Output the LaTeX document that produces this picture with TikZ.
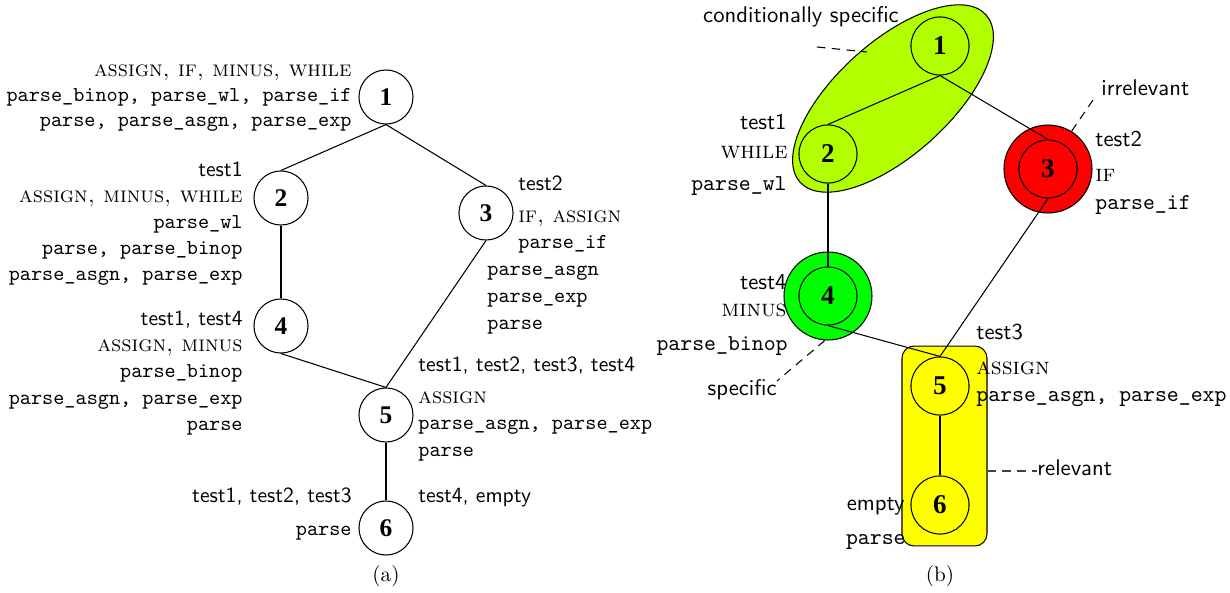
\documentclass[tikz,border=0pt]{standalone}
\usepackage{fontspec}
\usetikzlibrary{shapes.geometric}
\newfontfamily\numfont{Liberation Serif}
\definecolor{limefill}{RGB}{178,255,0}
\definecolor{greenfill}{RGB}{0,255,0}
\definecolor{redfill}{RGB}{255,0,0}
\definecolor{yellowfill}{RGB}{255,255,0}
\newcommand{\bsize}{\fontsize{10.7pt}{12.8pt}\selectfont}
\newcommand{\asfsize}{\fontsize{10.2pt}{12.2pt}\selectfont}
\newcommand{\ascsize}{\fontsize{10.5pt}{12.6pt}\selectfont}
\newcommand{\bscsize}{\fontsize{11.2pt}{13.4pt}\selectfont}
\begin{document}
\begin{tikzpicture}[x=0.4717pt,y=-0.4717pt,
  vtx/.style={circle,draw,line width=0.5pt,minimum size=25.5pt,inner sep=0pt,
              font=\numfont\bfseries\fontsize{12pt}{14pt}\selectfont},
  bvtx/.style={vtx,minimum size=27.4pt,font=\numfont\bfseries\fontsize{12.8pt}{15pt}\selectfont},
  halo/.style={circle,draw,line width=0.5pt,minimum size=41.5pt,inner sep=0pt},
  edge/.style={line width=0.5pt},
  lead/.style={line width=0.5pt,dash pattern=on 4pt off 3pt},
  lsf/.style={font=\sffamily\asfsize,inner sep=0pt},
  lsc/.style={font=\scshape\ascsize,inner sep=0pt},
  ltt/.style={font=\ttfamily,inner sep=0pt},
  bsf/.style={font=\sffamily\bsize,inner sep=0pt},
  bsc/.style={font=\scshape\bscsize,inner sep=0pt},
  btt/.style={font=\ttfamily\bsize,inner sep=0pt},
  rt/.style={anchor=mid east},
  lf/.style={anchor=mid west}]
\useasboundingbox (0,0) rectangle (1230,593);

% ---------------- (a) lattice ----------------
\node[vtx] (a1) at (386,97)  {1};
\node[vtx] (a2) at (281,198) {2};
\node[vtx] (a3) at (486,213) {3};
\node[vtx] (a4) at (281,326) {4};
\node[vtx] (a5) at (386,415) {5};
\node[vtx] (a6) at (386,528) {6};
\draw[edge] (a1.south) -- (a2.north);
\draw[edge] (a1.south) -- (a3.north);
\draw[edge] (a2.south) -- (a4.north);
\draw[edge] (a4.south) -- (a5.north);
\draw[edge] (a3.south) -- (a5.north);
\draw[edge] (a5.south) -- (a6.north);

\node[lsc,rt] (a1x) at (352,72)  {assign, if, minus, while};
\node[ltt,rt] (a1y) at (352,97)  {parse\_binop, parse\_wl, parse\_if};
\node[ltt,rt] (a1z) at (352,122) {parse, parse\_asgn, parse\_exp};

\node[lsf,rt] (a2w) at (243,172) {test1};
\node[lsc,rt] (a2x) at (243,198) {assign, minus, while};
\node[ltt,rt] (a2y) at (243,224) {parse\_wl};
\node[ltt,rt] (a2z) at (243,250) {parse, parse\_binop};
\node[ltt,rt] (a2v) at (243,276) {parse\_asgn, parse\_exp};

\node[lsf,lf] (a3w) at (518,186) {test2};
\node[lsc,lf] (a3x) at (518,218) {if, assign};
\node[ltt,lf] (a3y) at (518,244) {parse\_if};
\node[ltt,lf] (a3z) at (487,271) {parse\_asgn};
\node[ltt,lf] (a3v) at (487,298) {parse\_exp};
\node[ltt,lf] (a3u) at (487,325) {parse};

\node[lsf,rt] (a4w) at (243,321) {test1, test4};
\node[lsc,rt] (a4x) at (243,347) {assign, minus};
\node[ltt,rt] (a4y) at (243,373) {parse\_binop};
\node[ltt,rt] (a4z) at (243,400) {parse\_asgn, parse\_exp};
\node[ltt,rt] (a4v) at (243,426) {parse};

\node[lsf,lf] (a5w) at (418,367) {test1, test2, test3, test4};
\node[lsc,lf] (a5x) at (418,399) {assign};
\node[ltt,lf] (a5y) at (418,425) {parse\_asgn, parse\_exp};
\node[ltt,lf] (a5z) at (418,452) {parse};

\node[lsf,rt] (a6w) at (352,498) {test1, test2, test3};
\node[ltt,rt] (a6x) at (352,531) {parse};
\node[lsf,lf] (a6y) at (418,498) {test4, empty};

\node[inner sep=0pt] (capa) at (386,576) {(a)};

% ---------------- (b) classified lattice ----------------
\coordinate (ellc) at (893,98.5);
\draw[line width=0.5pt,fill=limefill] (ellc) ellipse [x radius=59pt, y radius=26.7pt, rotate=42];
\node[halo,fill=redfill]   (b3o) at (1048,169) {};
\node[halo,fill=greenfill] (b4o) at (828,296)  {};
\node[draw,line width=0.5pt,fill=yellowfill,rounded corners=5.7pt,
      minimum width=40.1pt,minimum height=94.3pt,inner sep=0pt] (box) at (944.5,446) {};

\node[bvtx] (b1) at (940,46)   {1};
\node[bvtx] (b2) at (828,154)  {2};
\node[bvtx] (b3) at (1048,169) {3};
\node[bvtx] (b4) at (828,296)  {4};
\node[bvtx] (b5) at (940,386)  {5};
\node[bvtx] (b6) at (940,505)  {6};
\draw[edge] (b1.south) -- (b2.north);
\draw[edge] (b1.south) -- (b3.north);
\draw[edge] (b2.south) -- (b4.north);
\draw[edge] (b4.south) -- (b5.north);
\draw[edge] (b3.south) -- (b5.north);
\draw[edge] (b5.south) -- (b6.north);

\node[bsf,rt] (b2w) at (787,125) {test1};
\node[bsc,rt] (b2x) at (788,154) {while};
\node[btt,rt] (b2y) at (787,186) {parse\_wl};

\node[bsf,lf] (b3w) at (1095,142) {test2};
\node[bsc,lf] (b3x) at (1095,177) {if};
\node[btt,lf] (b3y) at (1095,205) {parse\_if};

\node[bsf,rt] (b4w) at (787,285) {test4};
\node[bsc,rt] (b4x) at (787,312) {minus};
\node[btt,rt] (b4y) at (788,346) {parse\_binop};

\node[bsf,lf] (b5w) at (976,335) {test3};
\node[bsc,lf] (b5x) at (976,370) {assign};
\node[btt,lf] (b5y) at (976,397) {parse\_asgn, parse\_exp};

\node[bsf,rt] (b6w) at (905,506) {empty};
\node[btt,rt] (b6x) at (906,540) {parse};

% annotations with dashed leaders
\node[bsf] (cspec) at (801,17) {conditionally specific};
\coordinate (cs1) at (817,47);
\coordinate (cs2) at (867,52);
\draw[lead] (cs1) -- (cs2);

\node[bsf,lf] (irr) at (1101,91) {irrelevant};
\coordinate (irrend) at (1093,100);
\draw[lead] (b3o.58) -- (irrend);

\node[bsf,rt] (spec) at (777,391) {specific};
\coordinate (specend) at (777,381);
\draw[lead] (b4o.266) -- (specend);

\node[bsf,lf] (rel) at (1037,471) {relevant};
\draw[lead,black!75] (box.east |- rel.mid west) -- (rel.mid west);

\node[inner sep=0pt] (capb) at (940,576) {(b)};
\end{tikzpicture}
\end{document}
